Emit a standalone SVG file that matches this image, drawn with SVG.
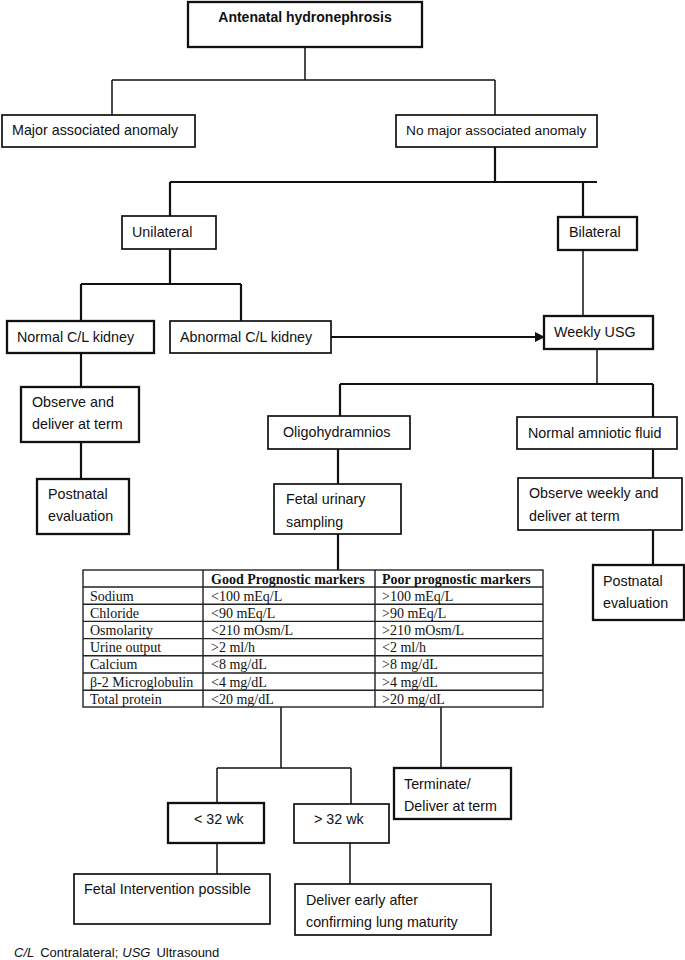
<svg xmlns="http://www.w3.org/2000/svg" width="685" height="960" viewBox="0 0 685 960">
<style>
  .box { fill: #fff; stroke: #111; stroke-width: 1.7; }
  .thick { stroke-width: 2.3; }
  .t { font-family: "Liberation Sans", Arial, sans-serif; font-size: 14.3px; fill: #111; }
  .b { font-weight: bold; font-size: 14px; }
  .conn { fill: none; stroke: #111; stroke-width: 1.5; }
  .conn2 { fill: none; stroke: #111; stroke-width: 2.2; }
  .tb { font-family: "Liberation Serif", "Times New Roman", serif; font-size: 14px; fill: #111; }
  .tbh { font-weight: bold; }
  .grid { stroke: #222; stroke-width: 1.4; fill: none; }
</style>
<defs>
  <marker id="arr" markerWidth="10" markerHeight="10" refX="9" refY="5" orient="auto" markerUnits="userSpaceOnUse">
    <path d="M0,0 L10,5 L0,10 Z" fill="#111"/>
  </marker>
</defs>
<rect width="685" height="960" fill="#fff"/>

<g id="connectors">
  <path class="conn" d="M305,47 V80 M112,80 H495 M112,80 V115 M495,80 V115"/>
  <path class="conn2" d="M495,147 V182 M170,182 H597 M170,182 V216 M583,182 V217"/>
  <path class="conn2" d="M170,249 V284 M81,284 H241 M81,284 V321 M241,284 V321"/>
  <path class="conn" d="M583,250 V316"/>
  <line class="conn2" x1="331" y1="337" x2="544" y2="337" marker-end="url(#arr)"/>
  <path class="conn2" d="M81,353 V387 M81,442 V479"/>
  <path class="conn" d="M597,349 V384"/>
  <path class="conn2" d="M340,384 H653 M340,384 V416 M653,384 V417"/>
  <path class="conn2" d="M338,449 V484 M338,534 V570"/>
  <path class="conn2" d="M653,449 V478 M653,530 V565"/>
  <path class="conn" d="M281,707 V768 M441,707 V768"/>
  <path class="conn" d="M217,768 H351 M217,768 V803 M351,768 V804"/>
  <path class="conn" d="M217,843 V874 M350,843 V884"/>
</g>

<g id="n-antenatal">
  <rect class="box thick" x="188" y="2" width="234" height="45"/>
  <text class="t b" x="305" y="22" text-anchor="middle">Antenatal hydronephrosis</text>
</g>
<g id="n-major">
  <rect class="box" x="2" y="115" width="193" height="32"/>
  <text class="t" x="12" y="135">Major associated anomaly</text>
</g>
<g id="n-nomajor">
  <rect class="box" x="396" y="115" width="201" height="32"/>
  <text class="t" x="406" y="135" style="font-size:13.7px">No major associated anomaly</text>
</g>
<g id="n-unilateral">
  <rect class="box" x="122" y="216" width="94" height="33"/>
  <text class="t" x="132" y="237">Unilateral</text>
</g>
<g id="n-bilateral">
  <rect class="box thick" x="558" y="217" width="79" height="33"/>
  <text class="t" x="569" y="237">Bilateral</text>
</g>
<g id="n-normalcl">
  <rect class="box thick" x="7" y="321" width="147" height="32"/>
  <text class="t" x="17" y="342">Normal C/L kidney</text>
</g>
<g id="n-abnormalcl">
  <rect class="box" x="170" y="321" width="161" height="32"/>
  <text class="t" x="180" y="342">Abnormal C/L kidney</text>
</g>
<g id="n-weeklyusg">
  <rect class="box thick" x="544" y="316" width="109" height="33"/>
  <text class="t" x="554" y="337">Weekly USG</text>
</g>
<g id="n-observe">
  <rect class="box thick" x="21" y="387" width="118" height="55"/>
  <text class="t" x="32" y="407">Observe and</text>
  <text class="t" x="32" y="429">deliver at term</text>
</g>
<g id="n-postnatal-left">
  <rect class="box thick" x="37" y="479" width="92" height="55"/>
  <text class="t" x="48" y="499">Postnatal</text>
  <text class="t" x="48" y="521">evaluation</text>
</g>
<g id="n-oligo">
  <rect class="box" x="268" y="416" width="142" height="33"/>
  <text class="t" x="283" y="437">Oligohydramnios</text>
</g>
<g id="n-fetalurinary">
  <rect class="box" x="274" y="484" width="127" height="50"/>
  <text class="t" x="286" y="504">Fetal urinary</text>
  <text class="t" x="286" y="527">sampling</text>
</g>
<g id="n-normalaf">
  <rect class="box" x="517" y="417" width="160" height="32"/>
  <text class="t" x="528" y="438">Normal amniotic fluid</text>
</g>
<g id="n-observeweekly">
  <rect class="box" x="518" y="478" width="164" height="52"/>
  <text class="t" x="529" y="498">Observe weekly and</text>
  <text class="t" x="529" y="521">deliver at term</text>
</g>
<g id="n-postnatal-right">
  <rect class="box thick" x="593" y="565" width="91" height="55"/>
  <text class="t" x="603" y="586">Postnatal</text>
  <text class="t" x="603" y="608">evaluation</text>
</g>

<g id="n-table">
  <rect class="grid" x="83" y="570" width="460" height="137"/>
  <path class="grid" d="M203,570 V707 M375,570 V707 M83,587 H543 M83,604.2 H543 M83,621.4 H543 M83,638.6 H543 M83,655.8 H543 M83,673 H543 M83,690.2 H543"/>
  <text class="tb tbh" x="211" y="583.5">Good Prognostic markers</text>
  <text class="tb tbh" x="382" y="583.5">Poor prognostic markers</text>
  <text class="tb" x="90" y="600.5">Sodium</text>
  <text class="tb" x="211" y="600.5">&lt;100 mEq/L</text>
  <text class="tb" x="382" y="600.5">&gt;100 mEq/L</text>
  <text class="tb" x="90" y="617.7">Chloride</text>
  <text class="tb" x="211" y="617.7">&lt;90 mEq/L</text>
  <text class="tb" x="382" y="617.7">&gt;90 mEq/L</text>
  <text class="tb" x="90" y="634.9">Osmolarity</text>
  <text class="tb" x="211" y="634.9">&lt;210 mOsm/L</text>
  <text class="tb" x="382" y="634.9">&gt;210 mOsm/L</text>
  <text class="tb" x="90" y="652.1">Urine output</text>
  <text class="tb" x="211" y="652.1">&gt;2 ml/h</text>
  <text class="tb" x="382" y="652.1">&lt;2 ml/h</text>
  <text class="tb" x="90" y="669.3">Calcium</text>
  <text class="tb" x="211" y="669.3">&lt;8 mg/dL</text>
  <text class="tb" x="382" y="669.3">&gt;8 mg/dL</text>
  <text class="tb" x="90" y="686.5">β-2 Microglobulin</text>
  <text class="tb" x="211" y="686.5">&lt;4 mg/dL</text>
  <text class="tb" x="382" y="686.5">&gt;4 mg/dL</text>
  <text class="tb" x="90" y="703.7">Total protein</text>
  <text class="tb" x="211" y="703.7">&lt;20 mg/dL</text>
  <text class="tb" x="382" y="703.7">&gt;20 mg/dL</text>
</g>

<g id="n-terminate">
  <rect class="box thick" x="394" y="768" width="117" height="51"/>
  <text class="t" x="404" y="789">Terminate/</text>
  <text class="t" x="404" y="811">Deliver at term</text>
</g>
<g id="n-lt32">
  <rect class="box thick" x="168" y="803" width="96" height="40"/>
  <text class="t" x="194" y="824">&lt; 32 wk</text>
</g>
<g id="n-gt32">
  <rect class="box" x="294" y="804" width="95" height="39"/>
  <text class="t" x="314" y="824">&gt; 32 wk</text>
</g>
<g id="n-fetalintervention">
  <rect class="box" x="74" y="874" width="196" height="50"/>
  <text class="t" x="84" y="894">Fetal Intervention possible</text>
</g>
<g id="n-deliverearly">
  <rect class="box" x="295" y="884" width="196" height="51"/>
  <text class="t" x="306" y="905">Deliver early after</text>
  <text class="t" x="306" y="927">confirming lung maturity</text>
</g>

<text class="t" x="14" y="957" style="font-size:13px"><tspan font-style="italic">C/L</tspan><tspan dx="6">Contralateral;</tspan><tspan dx="4" font-style="italic">USG</tspan><tspan dx="6">Ultrasound</tspan></text>
</svg>
